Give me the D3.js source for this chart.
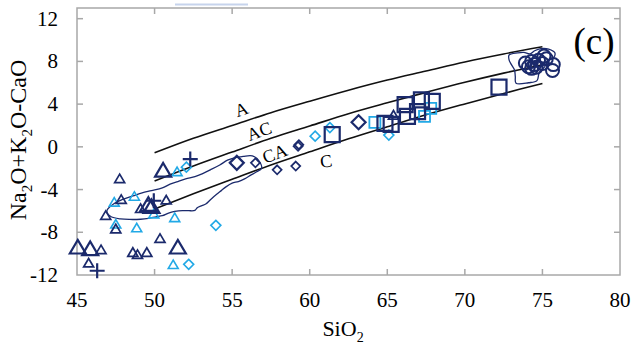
<!DOCTYPE html>
<html><head><meta charset="utf-8">
<script src="https://cdn.jsdelivr.net/npm/d3@7/dist/d3.min.js"></script>
<style>body{margin:0;background:#fff}svg{display:block}</style>
</head><body><svg id="c" width="632" height="348" font-family="Liberation Serif, Times New Roman, serif"></svg>
<script>
const xTicks=[45,50,55,60,65,70,75,80];
const yTicks=[-12,-8,-4,0,4,8,12];
// boundary lines (SiO2, MALI)
const lineA_AC=[[50,-0.56],[52.5,0.8],[55,2.0],[57.5,3.2],[60,4.27],[62.5,5.3],[65,6.25],[67.5,7.1],[70,7.95],[72.5,8.7],[75,9.37]];
const lineAC_CA=[[50,-3.2],[52.5,-1.8],[55,-0.49],[57.5,0.8],[60,1.95],[62.5,3.1],[65,4.12],[67.5,5.1],[70,6.04],[72.5,6.9],[75,7.69]];
const lineCA_C=[[50,-5.82],[52.5,-4.4],[55,-3.04],[57.5,-1.7],[60,-0.47],[62.5,0.75],[65,1.88],[67.5,3.0],[70,4.02],[72.5,5.0],[75,5.94]];
const fieldLabels=[["A",55.6,3.5,-19],["AC",56.75,1.45,-20],["CA",57.75,-0.65,-21],["C",61.05,-1.35,-8]];
// envelope fields
const fieldLow=[[46.95,-5.9],[47.4,-5.3],[47.9,-4.95],[48.6,-4.6],[49.2,-4.3],[49.8,-4.1],[50.5,-3.85],[51.0,-3.5],[51.5,-3.25],[52.0,-3.0],[52.6,-2.8],[53.1,-2.5],[53.6,-2.15],[54.2,-1.7],[54.7,-1.25],[55.2,-1.0],[55.7,-0.9],[56.3,-0.85],[56.75,-1.35],[56.9,-2.0],[56.5,-2.4],[56.2,-2.65],[55.8,-3.0],[55.4,-3.25],[55.0,-3.4],[54.6,-3.75],[54.3,-4.1],[54.0,-4.45],[53.6,-4.95],[53.3,-5.35],[53.05,-5.5],[52.75,-5.7],[52.6,-5.95],[52.2,-5.98],[51.8,-5.97],[51.3,-6.05],[50.9,-6.2],[50.5,-6.45],[50.1,-6.55],[49.6,-6.7],[49.1,-6.78],[48.4,-6.8],[47.8,-6.75],[47.2,-6.55],[46.95,-6.2]];
const fieldHigh=[[72.85,8.6],[73.4,8.8],[73.8,8.85],[74.2,8.7],[74.5,9.0],[74.9,9.2],[75.4,9.15],[75.8,8.8],[75.7,8.3],[75.3,8.05],[75.15,7.5],[74.8,7.0],[74.65,6.2],[74.1,6.0],[73.3,5.95],[73.25,6.6],[73.2,7.2],[73.0,7.7],[72.85,8.15]];
// samples
const triDarkLarge=[[50.55,-2.15],[49.6,-5.35],[49.8,-5.55],[45.05,-9.35],[45.85,-9.5],[51.5,-9.35]];
const triDark=[[47.75,-2.95],[47.85,-4.9],[46.85,-6.4],[47.5,-7.65],[49.1,-5.75],[50.75,-4.95],[46.55,-9.6],[45.75,-10.85],[50.35,-8.55],[48.6,-9.85],[48.9,-10.05],[49.5,-9.85],[65.4,3.0]];
const triLight=[[51.45,-2.3],[47.4,-5.15],[48.7,-4.6],[47.5,-7.2],[48.85,-7.55],[49.95,-6.25],[51.3,-6.6],[51.2,-11.0]];
const crossDark=[[52.3,-1.15],[49.95,-5.05],[46.3,-11.6]];
const diaDarkLarge=[[55.3,-1.5],[63.15,2.3]];
const diaDark=[[56.5,-1.5],[59.3,0.2],[59.25,0.05],[57.9,-2.15],[59.1,-1.8]];
const diaLight=[[52.05,-1.9],[53.95,-7.35],[52.2,-11.0],[60.35,1.0],[61.3,1.8],[65.1,1.1]];
const sqDark=[[61.45,1.15],[72.2,5.6],[64.85,2.2],[65.25,2.1],[66.15,3.95],[66.3,2.85],[67.2,4.4],[66.95,3.3],[67.9,4.25]];
const sqLight=[[64.2,2.3],[67.4,2.85],[67.8,3.6]];
const circDark=[[73.9,7.85],[74.1,7.5],[74.3,8.0],[74.5,7.7],[74.75,8.1],[75.0,7.8],[75.25,8.25],[74.6,7.45],[75.7,7.7],[75.65,7.15],[74.3,7.35],[75.1,8.5]];

const navy="#1b2a6c", light="#22a9e6";
const svg=d3.select("#c");
const L=77,R=620,T=8,B=275;
const x=d3.scaleLinear().domain([45,80]).range([L,R]);
const y=d3.scaleLinear().domain([-12,13]).range([B,T]);

// decorative top line
svg.append("line").attr("x1",175).attr("x2",248).attr("y1",4.5).attr("y2",4.5).attr("stroke","#c6d3ec").attr("stroke-width",2);

// frame
svg.append("rect").attr("x",L).attr("y",T).attr("width",R-L).attr("height",B-T).attr("fill","none").attr("stroke","#a8a8a8").attr("stroke-width",1.5);
const tk=svg.append("g").attr("stroke","#a8a8a8").attr("stroke-width",1.5);
xTicks.slice(1,-1).forEach(v=>{tk.append("line").attr("x1",x(v)).attr("x2",x(v)).attr("y1",B).attr("y2",B-6);tk.append("line").attr("x1",x(v)).attr("x2",x(v)).attr("y1",T).attr("y2",T+6);});
yTicks.slice(1).forEach(v=>{tk.append("line").attr("y1",y(v)).attr("y2",y(v)).attr("x1",L).attr("x2",L+6);tk.append("line").attr("y1",y(v)).attr("y2",y(v)).attr("x1",R).attr("x2",R-6);});
// tick labels
svg.append("g").selectAll("text").data(xTicks).join("text").attr("x",d=>x(d)).attr("y",B+32).attr("text-anchor","middle").attr("font-size",21).text(d=>d);
svg.append("g").selectAll("text").data(yTicks).join("text").attr("x",L-19).attr("y",d=>y(d)+7).attr("text-anchor","end").attr("font-size",21).text(d=>d);
// axis titles
const xt=svg.append("text").attr("x",343).attr("y",336).attr("text-anchor","middle").attr("font-size",22);
xt.append("tspan").text("SiO");xt.append("tspan").attr("font-size",14).attr("dy",6).text("2");
const yt=svg.append("text").attr("transform","translate(26,140) rotate(-90)").attr("text-anchor","middle").attr("font-size",24);
yt.append("tspan").text("Na");yt.append("tspan").attr("font-size",15).attr("dy",6).text("2");yt.append("tspan").attr("dy",-6).text("O+K");yt.append("tspan").attr("font-size",15).attr("dy",6).text("2");yt.append("tspan").attr("dy",-6).text("O-CaO");

// boundary lines
const ln=d3.line().x(d=>x(d[0])).y(d=>y(d[1])).curve(d3.curveCatmullRom);
[lineA_AC,lineAC_CA,lineCA_C].forEach(a=>svg.append("path").attr("d",ln(a)).attr("fill","none").attr("stroke","#111").attr("stroke-width",1.6));
fieldLabels.forEach(([t,a,b,r])=>svg.append("text").attr("transform",`translate(${x(a)},${y(b)}) rotate(${r})`).attr("text-anchor","middle").attr("dy",6).attr("font-size",18).text(t));
// fields
const cl=d3.line().x(d=>x(d[0])).y(d=>y(d[1])).curve(d3.curveCatmullRomClosed);
[fieldLow,fieldHigh].forEach(a=>svg.append("path").attr("d",cl(a)).attr("fill","none").attr("stroke",navy).attr("stroke-width",1.3));

// markers
function tri(s){const h=s*0.85;return `M${-s/2},${h/2}L0,${-h/2}L${s/2},${h/2}Z`;}
function dia(s){return `M0,${-s/2}L${s/2},0L0,${s/2}L${-s/2},0Z`;}
function sq(s){return `M${-s/2},${-s/2}h${s}v${s}h${-s}Z`;}
function cross(s){return `M${-s/2},0h${s}M0,${-s/2}v${s}`;}
function plot(data,pathFn,size,color,sw){
  svg.append("g").selectAll("path").data(data).join("path")
   .attr("transform",d=>`translate(${x(d[0])},${y(d[1])})`)
   .attr("d",pathFn(size)).attr("fill","none").attr("stroke",color).attr("stroke-width",sw);
}
plot(triLight,tri,10,light,1.6);
plot(diaLight,dia,10,light,1.6);
plot(sqLight,sq,11,light,1.8);
plot(triDark,tri,10,navy,1.7);
plot(triDarkLarge,tri,16,navy,2.2);
plot(crossDark,cross,15,navy,2.2);
plot(diaDark,dia,9,navy,1.7);
plot(diaDarkLarge,dia,14,navy,2.2);
plot(sqDark,sq,15,navy,2.2);
svg.append("g").selectAll("circle").data(circDark).join("circle").attr("cx",d=>x(d[0])).attr("cy",d=>y(d[1])).attr("r",6.5).attr("fill","none").attr("stroke",navy).attr("stroke-width",2);
// panel label
svg.append("text").attr("x",594).attr("y",54).attr("text-anchor","middle").attr("font-size",37).text("(c)");
</script></body></html>
